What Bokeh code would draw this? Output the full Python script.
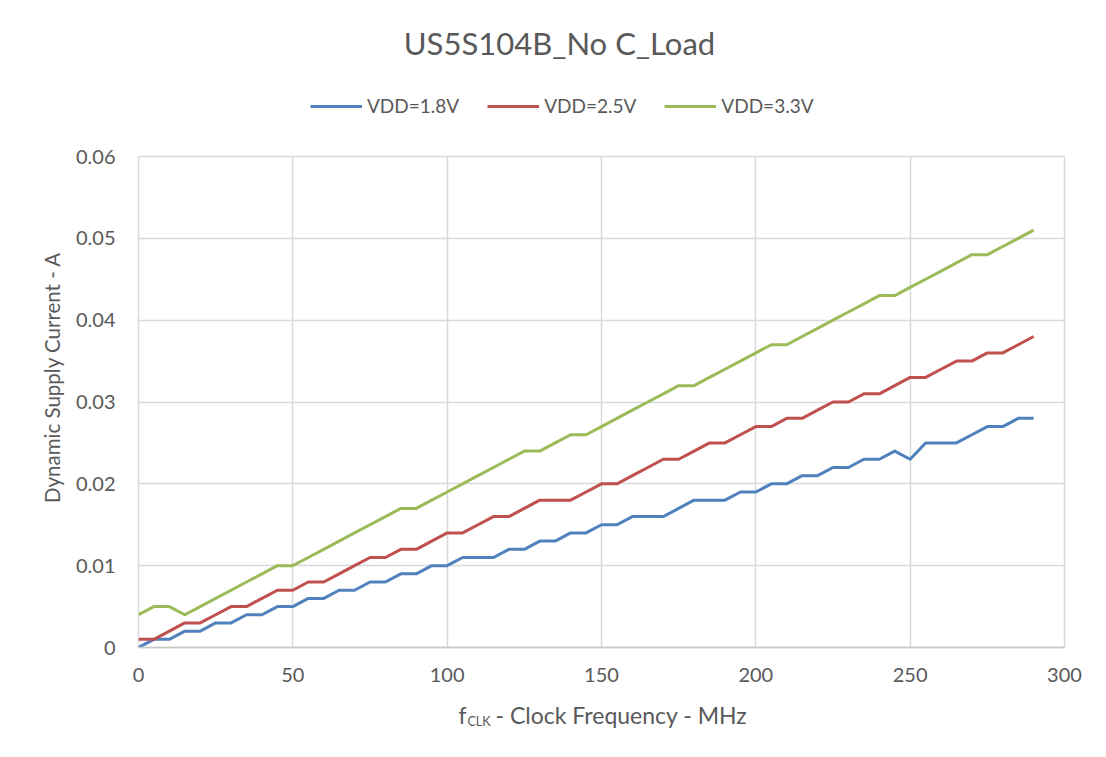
import math
from bokeh.plotting import figure
from bokeh.layouts import column, row
from bokeh.models import (Range1d, FixedTicker, NumeralTickFormatter, Legend,
                          LegendItem, Label)
from bokeh.embed import file_html
from bokeh.resources import INLINE

# ---------------- data ----------------
freq_mhz = [0, 5, 10, 15, 20, 25, 30, 35, 40, 45, 50, 55, 60, 65, 70, 75, 80, 85, 90, 95,
            100, 105, 110, 115, 120, 125, 130, 135, 140, 145, 150, 155, 160, 165, 170, 175,
            180, 185, 190, 195, 200, 205, 210, 215, 220, 225, 230, 235, 240, 245, 250, 255,
            260, 265, 270, 275, 280, 285, 290]

vdd_18 = [0.000, 0.001, 0.001, 0.002, 0.002, 0.003, 0.003, 0.004, 0.004, 0.005, 0.005,
          0.006, 0.006, 0.007, 0.007, 0.008, 0.008, 0.009, 0.009, 0.010, 0.010, 0.011,
          0.011, 0.011, 0.012, 0.012, 0.013, 0.013, 0.014, 0.014, 0.015, 0.015, 0.016,
          0.016, 0.016, 0.017, 0.018, 0.018, 0.018, 0.019, 0.019, 0.020, 0.020, 0.021,
          0.021, 0.022, 0.022, 0.023, 0.023, 0.024, 0.023, 0.025, 0.025, 0.025, 0.026,
          0.027, 0.027, 0.028, 0.028]

vdd_25 = [0.001, 0.001, 0.002, 0.003, 0.003, 0.004, 0.005, 0.005, 0.006, 0.007, 0.007,
          0.008, 0.008, 0.009, 0.010, 0.011, 0.011, 0.012, 0.012, 0.013, 0.014, 0.014,
          0.015, 0.016, 0.016, 0.017, 0.018, 0.018, 0.018, 0.019, 0.020, 0.020, 0.021,
          0.022, 0.023, 0.023, 0.024, 0.025, 0.025, 0.026, 0.027, 0.027, 0.028, 0.028,
          0.029, 0.030, 0.030, 0.031, 0.031, 0.032, 0.033, 0.033, 0.034, 0.035, 0.035,
          0.036, 0.036, 0.037, 0.038]

vdd_33 = [0.004, 0.005, 0.005, 0.004, 0.005, 0.006, 0.007, 0.008, 0.009, 0.010, 0.010,
          0.011, 0.012, 0.013, 0.014, 0.015, 0.016, 0.017, 0.017, 0.018, 0.019, 0.020,
          0.021, 0.022, 0.023, 0.024, 0.024, 0.025, 0.026, 0.026, 0.027, 0.028, 0.029,
          0.030, 0.031, 0.032, 0.032, 0.033, 0.034, 0.035, 0.036, 0.037, 0.037, 0.038,
          0.039, 0.040, 0.041, 0.042, 0.043, 0.043, 0.044, 0.045, 0.046, 0.047, 0.048,
          0.048, 0.049, 0.050, 0.051]

series_names = ["VDD=1.8V", "VDD=2.5V", "VDD=3.3V"]
series_values = [vdd_18, vdd_25, vdd_33]
series_colors = ["#4F81BD", "#C0504D", "#9BBB59"]

x_ticks = [0, 50, 100, 150, 200, 250, 300]
y_ticks = [0, 0.01, 0.02, 0.03, 0.04, 0.05, 0.06]

title_text = "US5S104B_No C_Load"
y_label_text = "Dynamic Supply Current - A"
x_label_main = "f"
x_label_sub = "CLK"
x_label_rest = "- Clock Frequency - MHz"

# ---------------- layout ----------------
FONT = "Lato"
TXT = "#595959"
GRID = "#d9d9d9"

W = 1090
FRAME_L, FRAME_R = 138, 1064          # frame edges (page px)
LEFT_W = 70                           # strip holding the y-axis title
TOP_H = 140                           # header strip (title + legend)
MAIN_TOP_BORDER = 16                  # frame top at 156
FRAME_H = 491                         # frame bottom at 647
MAIN_BOTTOM_BORDER = 40               # tick labels
BOT_H = 54                            # x-axis title strip
MAIN_H = MAIN_TOP_BORDER + FRAME_H + MAIN_BOTTOM_BORDER
Y_BOT0 = TOP_H + MAIN_H               # page y of bottom strip top

X0, X1 = 0, 300
Y0, Y1 = 0, 0.06

x_range = Range1d(X0, X1)


def px_x(px):
    return X0 + (px - FRAME_L) / (FRAME_R - FRAME_L) * (X1 - X0)


def strip(width, height, xr, left, right):
    f = figure(width=width, height=height, output_backend="svg", toolbar_location=None,
               x_range=xr, y_range=Range1d(0, height),
               x_axis_type=None, y_axis_type=None, title=None,
               min_border_left=left, min_border_right=right,
               min_border_top=0, min_border_bottom=0)
    f.outline_line_color = None
    f.grid.visible = False
    f.background_fill_color = "white"
    f.border_fill_color = "white"
    return f


# ---- main chart ----
p = figure(width=W - LEFT_W, height=MAIN_H, output_backend="svg", toolbar_location=None,
           x_range=x_range, y_range=Range1d(Y0, Y1), title=None,
           min_border_left=FRAME_L - LEFT_W, min_border_right=W - FRAME_R,
           min_border_top=MAIN_TOP_BORDER, min_border_bottom=MAIN_BOTTOM_BORDER)
p.background_fill_color = "white"
p.border_fill_color = "white"
p.outline_line_color = GRID
p.outline_line_width = 1.5

p.xaxis.ticker = FixedTicker(ticks=x_ticks)
p.yaxis.ticker = FixedTicker(ticks=y_ticks)
p.yaxis.formatter = NumeralTickFormatter(format="0.[00]")
for ax in (p.xaxis, p.yaxis):
    ax.major_tick_line_color = None
    ax.minor_tick_line_color = None
    ax.major_label_text_font = FONT
    ax.major_label_text_font_size = "20px"
    ax.major_label_text_color = TXT
p.xaxis.axis_line_color = "#c8c8c8"
p.xaxis.axis_line_width = 1.5
p.yaxis.axis_line_color = None
p.xaxis.major_label_standoff = 14
p.yaxis.major_label_standoff = 17

p.xgrid.ticker = FixedTicker(ticks=x_ticks)
p.ygrid.ticker = FixedTicker(ticks=y_ticks)
p.grid.grid_line_color = GRID
p.grid.grid_line_width = 1.5

for name, vals, col in zip(series_names, series_values, series_colors):
    p.line(freq_mhz, vals, line_color=col, line_width=3, line_join="round")

# ---- left strip: y-axis title ----
left = strip(LEFT_W, MAIN_H, Range1d(0, LEFT_W), 0, 0)
left.add_layout(Label(x=51, y=MAIN_H - (386 - TOP_H), text=y_label_text, angle=math.pi / 2,
                      text_align="center", text_baseline="middle", text_font=FONT,
                      text_font_size="20.5px", text_color=TXT))

# ---- header strip: title + legend ----
top = strip(W, TOP_H, x_range, FRAME_L, W - FRAME_R)
top.extra_y_ranges = {"hidden": Range1d(1, 2)}
top.add_layout(Label(x=px_x(559), y=TOP_H - 42, text=title_text, text_align="center",
                     text_baseline="alphabetic", text_font=FONT, text_font_size="31px",
                     text_color=TXT))
# legend swatches come from copies of the series drawn on an off-screen range
legend_renderers = [top.line(freq_mhz, vals, line_color=c, line_width=3, y_range_name="hidden")
                    for vals, c in zip(series_values, series_colors)]
legend = Legend(items=[LegendItem(label=n, renderers=[r])
                       for n, r in zip(series_names, legend_renderers)],
                orientation="horizontal", location=(310 - FRAME_L, TOP_H - 117),
                glyph_width=52, glyph_height=22, label_standoff=5, spacing=28,
                padding=0, margin=0, border_line_color=None, background_fill_alpha=0,
                label_text_font=FONT, label_text_font_size="19px",
                label_text_color=TXT, label_height=22)
top.add_layout(legend, "center")

# ---- bottom strip: x-axis title with subscript ----
bot = strip(W, BOT_H, x_range, FRAME_L, W - FRAME_R)
bot.add_layout(Label(x=px_x(458), y=Y_BOT0 + BOT_H - 714, text=x_label_main, text_align="left",
                     text_baseline="alphabetic", text_font=FONT, text_font_size="23px",
                     text_color=TXT))
bot.add_layout(Label(x=px_x(467), y=Y_BOT0 + BOT_H - 721, text=x_label_sub, text_align="left",
                     text_baseline="alphabetic", text_font=FONT, text_font_size="12.5px",
                     text_color=TXT))
bot.add_layout(Label(x=px_x(495), y=Y_BOT0 + BOT_H - 714, text=x_label_rest, text_align="left",
                     text_baseline="alphabetic", text_font=FONT, text_font_size="23px",
                     text_color=TXT))

layout = column(top, row(left, p, spacing=0), bot, spacing=0)
open("out.html", "w").write(file_html(layout, INLINE))
